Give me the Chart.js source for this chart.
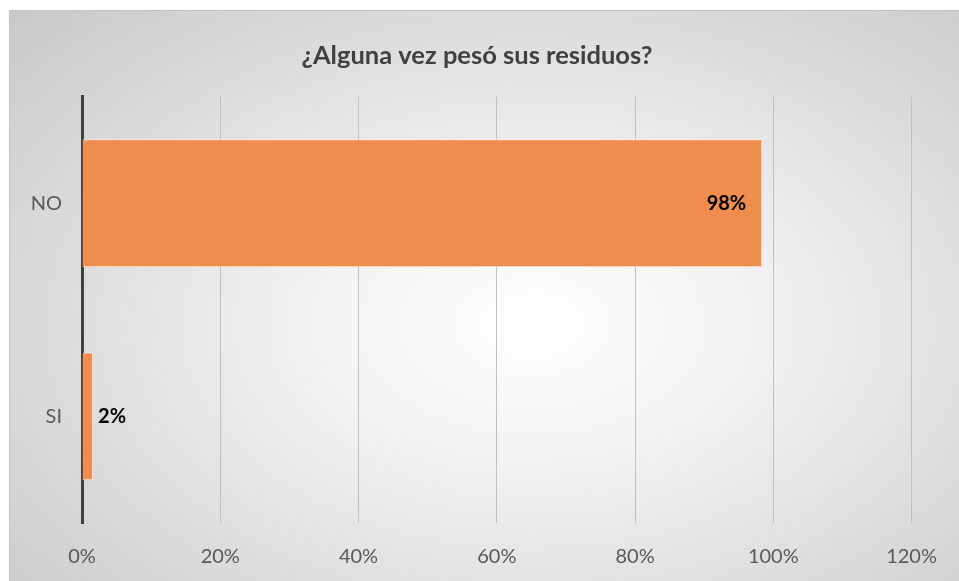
<!DOCTYPE html>
<html>
<head>
<meta charset="utf-8">
<script src="https://cdn.jsdelivr.net/npm/chart.js@4.4.0/dist/chart.umd.min.js"></script>
<style>
  html, body { margin: 0; padding: 0; background: #fff; }
  #wrap {
    position: absolute; left: 9px; top: 10px; width: 950px; height: 571px;
    border-top: 1px solid #c4c4c4; border-left: 1px solid #c4c4c4;
    box-sizing: border-box;
    background: radial-gradient(ellipse 75% 80% at 55% 55%, #ffffff 0%, #f3f3f3 30%, #dadada 70%, #c9c9c9 100%);
  }
</style>
</head>
<body>
<div id="wrap"><canvas id="chart"></canvas></div>
<script>
const categories = ['NO', 'SI'];
const values = [98.4, 1.6];
const titleText = '¿Alguna vez pesó sus residuos?';
const fontFamily = "Lato, 'Open Sans', sans-serif";

const barLabels = {
    id: 'barLabels',
    afterDatasetsDraw(chart) {
        const ctx = chart.ctx;
        const meta = chart.getDatasetMeta(0);
        ctx.save();
        ctx.font = 'bold 20px ' + fontFamily;
        ctx.fillStyle = '#000';
        ctx.textBaseline = 'middle';
        meta.data.forEach((bar, i) => {
            const txt = Math.round(values[i]) + '%';
            if (values[i] > 50) {
                ctx.textAlign = 'right';
                ctx.fillText(txt, bar.x - 16, bar.y);
            } else {
                ctx.textAlign = 'left';
                ctx.fillText(txt, bar.x + 5, bar.y);
            }
        });
        ctx.restore();
    }
};

const ctx = document.getElementById('chart').getContext('2d');
new Chart(ctx, {
    type: 'bar',
    data: {
        labels: categories,
        datasets: [{
            data: values,
            backgroundColor: '#ee8d4e',
            borderColor: 'rgba(255,235,220,0.9)',
            borderWidth: 1,
            borderSkipped: 'start',
            barPercentage: 0.6,
            categoryPercentage: 1
        }]
    },
    options: {
        indexAxis: 'y',
        responsive: true,
        maintainAspectRatio: false,
        animation: false,
        layout: { padding: { top: 0, right: 15, bottom: 0, left: 0 } },
        plugins: {
            legend: { display: false },
            tooltip: { enabled: false },
            title: {
                display: true,
                text: titleText,
                color: '#404040',
                font: { family: fontFamily, size: 25.5, weight: 'bold' },
                padding: { top: 29, bottom: 26 }
            }
        },
        scales: {
            x: {
                min: 0,
                max: 120,
                ticks: {
                    stepSize: 20,
                    callback: v => v + '%',
                    color: '#595959',
                    font: { family: fontFamily, size: 20 },
                    padding: 22
                },
                grid: { color: '#c0c0c0', lineWidth: 1, drawTicks: false },
                border: { display: false },
                afterFit: s => { s.height = 58; }
            },
            y: {
                ticks: {
                    color: '#595959',
                    font: { family: fontFamily, size: 20 },
                    padding: 20
                },
                grid: { display: false, drawTicks: false },
                border: { color: '#404040', width: 3 },
                afterFit: s => { s.width = 72; }
            },
            y2: {
                position: 'right',
                ticks: { display: false },
                grid: { display: false, drawTicks: false },
                border: { display: false },
                afterFit: s => { s.width = 30; }
            }
        }
    },
    plugins: [barLabels]
});
</script>
</body>
</html>
